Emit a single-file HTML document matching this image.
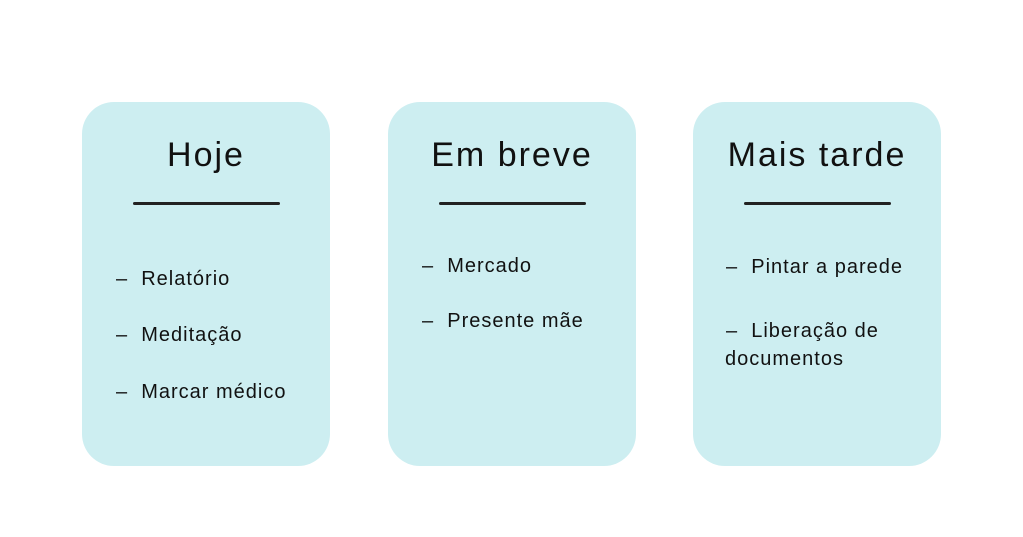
<!DOCTYPE html>
<html><head><meta charset="utf-8"><style>
body{margin:0;width:1023px;height:537px;background:#fff;position:relative;overflow:hidden;font-family:"Liberation Sans",sans-serif;color:#111}
.card{position:absolute;top:102px;width:248px;height:364px;background:#cdeef1;border-radius:32px}
.t{position:absolute;top:136px;width:248px;text-align:center;font-size:34px;letter-spacing:2px;font-weight:300}
.u{position:absolute;top:202px;height:3px;width:147px;background:#222;border-radius:2px}
.i{position:absolute;font-size:20px;letter-spacing:1px;white-space:nowrap}
</style></head><body>
<div class="card" style="left:82px"></div>
<div class="card" style="left:388px"></div>
<div class="card" style="left:693px"></div>
<div class="t" style="left:82px">Hoje</div>
<div class="t" style="left:388px">Em breve</div>
<div class="t" style="left:693px">Mais tarde</div>
<div class="u" style="left:133px"></div>
<div class="u" style="left:439px"></div>
<div class="u" style="left:744px"></div>
<div class="i" style="left:116px;top:268px">–&nbsp; Relatório</div>
<div class="i" style="left:116px;top:324px">–&nbsp; Meditação</div>
<div class="i" style="left:116px;top:381px">–&nbsp; Marcar médico</div>
<div class="i" style="left:422px;top:255px">–&nbsp; Mercado</div>
<div class="i" style="left:422px;top:310px">–&nbsp; Presente mãe</div>
<div class="i" style="left:726px;top:256px">–&nbsp; Pintar a parede</div>
<div class="i" style="left:726px;top:320px">–&nbsp; Liberação de</div>
<div class="i" style="left:725px;top:348px">documentos</div>
</body></html>
